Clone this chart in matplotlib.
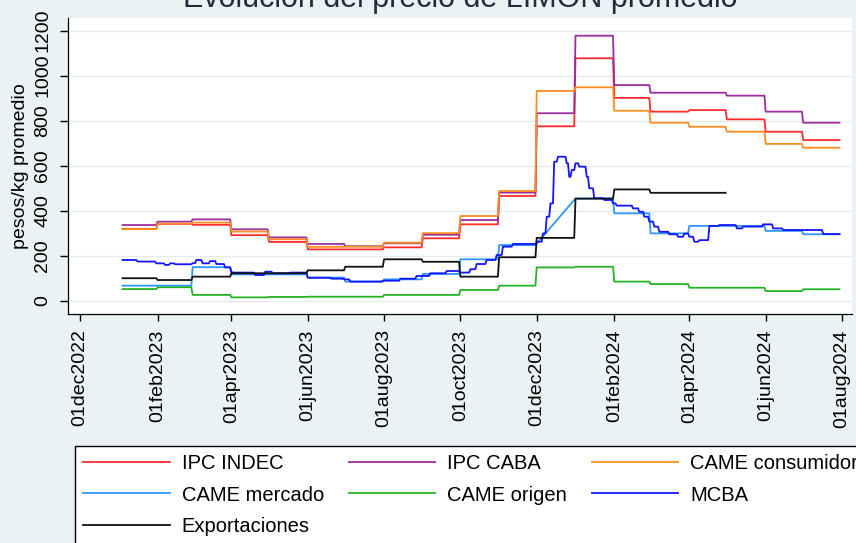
import matplotlib
matplotlib.use('Agg')
import matplotlib.pyplot as plt
import matplotlib.dates as mdates
import pandas as pd

plt.rcParams['font.family'] = ['Liberation Sans', 'DejaVu Sans']

# monthly step series (first obs is the first week of jan 2023)
months = ['2023-01-04', '2023-02-01', '2023-03-01', '2023-04-01', '2023-05-01',
          '2023-06-01', '2023-07-01', '2023-08-01', '2023-09-01', '2023-10-01',
          '2023-11-01', '2023-12-01', '2024-01-01', '2024-02-01', '2024-03-01',
          '2024-04-01', '2024-05-01', '2024-06-01', '2024-07-01']
end_date = '2024-07-30'
export_end = '2024-04-30'

ipc_indec = [320, 342, 338, 292, 262, 229, 229, 238, 278, 340, 466, 775, 1077,
             901, 840, 847, 806, 751, 714]
ipc_caba = [337, 352, 362, 318, 282, 253, 243, 256, 294, 359, 481, 833, 1177,
            958, 924, 924, 911, 840, 791]
came_consumidor = [319, 343, 348, 308, 274, 240, 241, 259, 301, 377, 488, 932, 948,
                   844, 791, 773, 751, 697, 680]
came_mercado = [68, 68, 150, 118, 118, 104, 86, 96, 120, 185, 248, None, 455,
                389, 300, 333, 333, 311, 296]
came_origen = [53, 61, 27, 16, 18, 19, 19, 27, 27, 49, 68, 149, 152,
               86, 75, 59, 59, 44, 52]
exportaciones = [101, 93, 108, 123, 123, 136, 152, 185, 174, 108, 194, 280, 454,
                 495, 480, 480]

# MCBA changes more often
mcba_dates = ['2023-01-04', '2023-01-16', '2023-01-31', '2023-02-07', '2023-02-11',
              '2023-02-15', '2023-03-01', '2023-03-04', '2023-03-09', '2023-03-15',
              '2023-03-20', '2023-03-27', '2023-04-01', '2023-04-02', '2023-04-20',
              '2023-04-28', '2023-05-04', '2023-05-18', '2023-06-01', '2023-06-20',
              '2023-06-30', '2023-07-05', '2023-07-31', '2023-08-14', '2023-08-27',
              '2023-09-07', '2023-09-20', '2023-10-01', '2023-10-09', '2023-10-14',
              '2023-10-22', '2023-10-30', '2023-11-04', '2023-11-12', '2023-12-01',
              '2023-12-06', '2023-12-09', '2023-12-12', '2023-12-15', '2023-12-18',
              '2023-12-25', '2023-12-27', '2023-12-29', '2024-01-01', '2024-01-04',
              '2024-01-10', '2024-01-12', '2024-01-16', '2024-01-24', '2024-01-31',
              '2024-02-03', '2024-02-16', '2024-02-21', '2024-02-25', '2024-02-29',
              '2024-03-04', '2024-03-08', '2024-03-16', '2024-03-23', '2024-03-28',
              '2024-04-01', '2024-04-05', '2024-04-09', '2024-04-17', '2024-04-25',
              '2024-05-09', '2024-05-14', '2024-05-30', '2024-06-07', '2024-06-15',
              '2024-07-17']
mcba = [182, 175, 167, 160, 167, 163, 168, 182, 167, 177,
        164, 149, 130, 126, 115, 130, 123, 126, 103, 99,
        96, 86, 90, 99, 111, 123, 133, 126, 141, 164,
        182, 204, 241, 253, 263, 300, 374, 433, 618, 640,
        611, 551, 581, 611, 596, 551, 500, 456, 448, 433,
        423, 411, 396, 374, 352, 330, 307, 296, 285, 299,
        285, 263, 270, 333, 337, 322, 330, 340, 322, 315,
        297]

series = [
    ('IPC INDEC', months, ipc_indec, end_date, '#FF2B2B'),
    ('IPC CABA', months, ipc_caba, end_date, '#9B2D9B'),
    ('CAME consumidor', months, came_consumidor, end_date, '#FF8C1F'),
    ('CAME mercado', months, came_mercado, end_date, '#2E96FF'),
    ('CAME origen', months, came_origen, end_date, '#24B324'),
    ('MCBA', mcba_dates, mcba, end_date, '#1414FF'),
    ('Exportaciones', months[:len(exportaciones)], exportaciones, export_end, '#111111'),
]


def to_daily(dates, vals, end):
    s = pd.Series([float('nan') if v is None else v for v in vals],
                  index=pd.to_datetime(dates))
    idx = pd.date_range(s.index[0], end, freq='D')
    return s.reindex(idx, method='ffill').dropna()


W, H = 856, 543
fig = plt.figure(figsize=(W / 100, H / 100), dpi=100, facecolor='#EAF2F3')
ax = fig.add_axes([68 / W, 1 - 314 / H, (852 - 68) / W, (314 - 18) / H])
ax.set_facecolor('white')

lines = {}
for name, d, v, end, col in series:
    s = to_daily(d, v, end)
    lines[name], = ax.plot(s.index, s.values, color=col, lw=1.3, label=name)

ref = mdates.date2num(pd.Timestamp('2022-12-01'))
ax.set_xlim(ref - 9.6, ref + 617)
ax.set_ylim(-57.7, 1255.5)

xt = pd.date_range('2022-12-01', '2024-08-01', freq='2MS')
ax.set_xticks(xt, [d.strftime('%d%b%Y').lower() for d in xt], rotation=90,
              fontsize=14, va='top', ha='center')
yt = [0, 200, 400, 600, 800, 1000, 1200]
ax.set_yticks(yt, [str(v) for v in yt], rotation=90, fontsize=14, va='center')
ax.tick_params(axis='x', length=5, width=1, pad=6)
ax.tick_params(axis='y', length=6, width=1, pad=6)
ax.set_ylabel('pesos/kg promedio', fontsize=14, labelpad=4)

ax.yaxis.grid(True, color='#E4ECEE', lw=1.0)
ax.set_axisbelow(True)
for sp in ['top', 'right']:
    ax.spines[sp].set_visible(False)
for sp in ['left', 'bottom']:
    ax.spines[sp].set_linewidth(0.9)

fig.text(460 / W, 1 - 7 / H, 'Evolución del precio de LIMÓN promedio',
         ha='center', va='baseline', fontsize=22, color='#1F2D3D')

# legend is row-major in the reference, matplotlib fills columns first
order = ['IPC INDEC', 'CAME mercado', 'Exportaciones', 'IPC CABA', 'CAME origen',
         'CAME consumidor', 'MCBA']
leg = fig.legend([lines[n] for n in order], order, loc='upper left',
                 bbox_to_anchor=(75 / W, 1 - 446 / H), ncol=3, fontsize=14.5,
                 frameon=True, fancybox=False, edgecolor='black', framealpha=1,
                 borderaxespad=0, handlelength=4.3, handletextpad=0.6,
                 columnspacing=1.22, borderpad=0.4, labelspacing=0.62)
leg.get_frame().set_linewidth(1.0)

plt.savefig('out.png', dpi=100, facecolor=fig.get_facecolor())
